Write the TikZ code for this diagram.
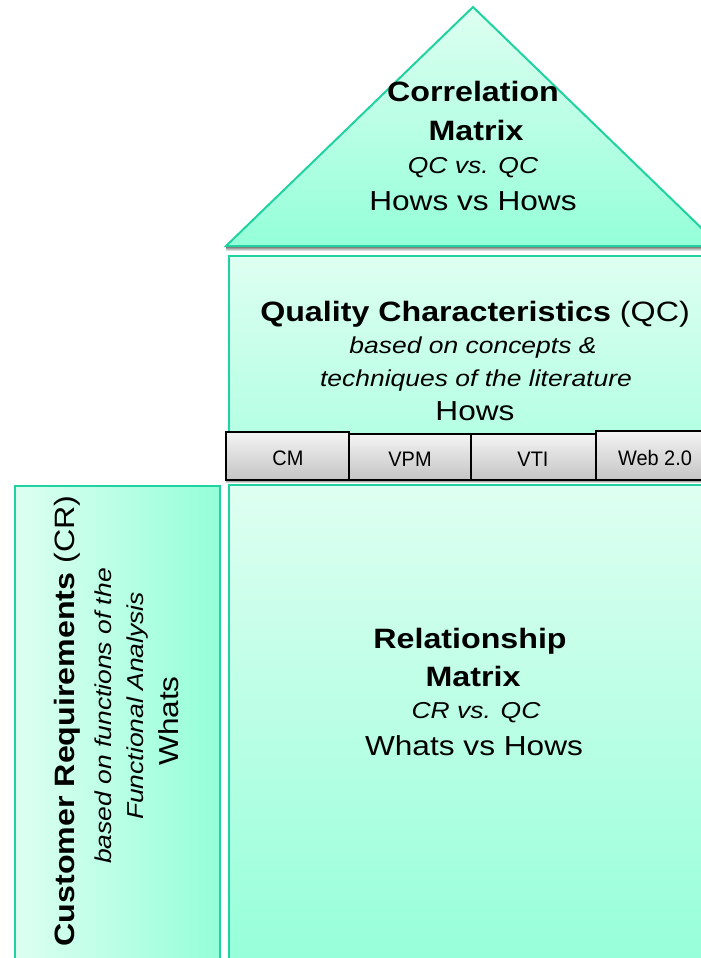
\documentclass[tikz,border=0pt]{standalone}
\usepackage{fontspec}
\setmainfont[FakeStretch=1.15]{Liberation Sans}
\newfontfamily\tabfont[FakeStretch=0.95]{Liberation Sans}
\definecolor{lightg}{RGB}{222,255,241}
\definecolor{midg}{RGB}{168,255,224}
\definecolor{darkg}{RGB}{148,255,217}
\definecolor{borderg}{RGB}{32,210,160}
\definecolor{tabtop}{RGB}{244,244,244}
\definecolor{tabbot}{RGB}{196,196,196}
\definecolor{shade}{RGB}{175,175,175}
\tikzset{
  boxline/.style={draw=borderg, line width=2pt},
  tabbox/.style={draw=black, line width=1.3pt, top color=tabtop, bottom color=tabbot},
  ttl/.style={inner sep=0pt, anchor=base, font=\fontsize{28}{30}\selectfont\bfseries},
  plain/.style={inner sep=0pt, anchor=base, font=\fontsize{27.5}{30}\selectfont},
  sub/.style={inner sep=0pt, anchor=base, font=\fontsize{23}{26}\selectfont\itshape},
  tabtxt/.style={inner sep=0pt, anchor=base, font=\tabfont\fontsize{21}{24}\selectfont},
}
\begin{document}
\begin{tikzpicture}[x=1pt,y=-1pt]
\useasboundingbox (0,0) rectangle (701,958);
\clip (0,0) rectangle (701,958);
% correlation triangle
\path[boxline, top color=lightg, bottom color=darkg] (226,246) -- (473,7) -- (720,246) -- cycle;
\fill[shade] (226,247) rectangle (720,251);
% QC box
\path[boxline, top color=lightg, bottom color=midg] (229,256) rectangle (720,485);
% relationship box
\path[boxline, top color=lightg, bottom color=darkg] (229,485) rectangle (720,975);
% CR box
\path[boxline, left color=lightg, right color=darkg] (15,486) rectangle (220,975);
% tabs
\fill[shade] (226,480) rectangle (720,483);
\path[tabbox] (226,432) rectangle (349,480) node[midway] (cm) {};
\path[tabbox] (349,434) rectangle (471,480) node[midway] (vpm) {};
\path[tabbox] (471,434) rectangle (596,480) node[midway] (vti) {};
\path[tabbox] (596,431) rectangle (721,480) node[midway] (web) {};
\node[tabtxt] (cmt) at (288,465) {CM};
\node[tabtxt] (vpmt) at (410,466) {VPM};
\node[tabtxt] (vtit) at (533,466) {VTI};
\node[tabtxt] (webt) at (655,465) {Web 2.0};
% triangle text
\node[ttl] (c1) at (473,101.7) {Correlation};
\node[ttl] (c2) at (476,140) {Matrix};
\node[sub] (c3) at (473,173) {QC vs. QC};
\node[plain] (c4) at (473,210.7) {Hows vs Hows};
% QC text
\node[ttl] (q1) at (475,321.7) {Quality Characteristics \mdseries(QC)};
\node[sub] (q2) at (473,353) {based on concepts \&};
\node[sub] (q3) at (476,386.7) {techniques of the literature};
\node[plain] (q4) at (475,420.7) {Hows};
% relationship text
\node[ttl] (r1) at (470,648.3) {Relationship};
\node[ttl] (r2) at (473,686.7) {Matrix};
\node[sub] (r3) at (476,718.3) {CR vs. QC};
\node[plain] (r4) at (474,755) {Whats vs Hows};
% CR text
\node[ttl, rotate=90] (l1) at (74.5,721) {Customer Requirements \mdseries(CR)};
\node[sub, rotate=90] (l2) at (111,716) {based on functions of the};
\node[sub, rotate=90] (l3) at (143.5,706) {Functional Analysis};
\node[plain, rotate=90] (l4) at (178.5,721) {Whats};
\end{tikzpicture}
\end{document}
